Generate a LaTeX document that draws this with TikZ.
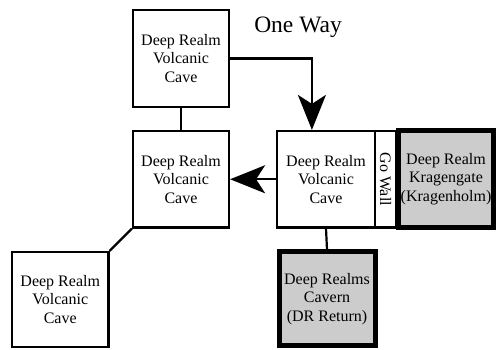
\documentclass[tikz,border=0pt]{standalone}
\usepackage{fontspec}
\setmainfont{Liberation Serif}
\usetikzlibrary{arrows.meta}
\definecolor{halftone}{gray}{0.8}
\begin{document}
\begin{tikzpicture}[x=1pt,y=-1pt,
  room/.style={draw, line width=2.2pt, inner sep=0pt, align=center,
    font=\fontsize{16}{18.5}\selectfont},
  exitroom/.style={room, line width=5pt, fill=halftone},
  link/.style={line width=2.2pt},
  oneway/.style={link, -{Stealth[length=35pt,width=28pt,inset=9pt]}}
]
\useasboundingbox (0,0) rectangle (498,349);

% volcanic caves
\node[room, minimum width=96pt, minimum height=97pt] (A) at (181,58.5) {Deep Realm\\Volcanic\\Cave};
\node[room, minimum width=96pt, minimum height=96.5pt] (B) at (181,179.25) {Deep Realm\\Volcanic\\Cave};
\node[room, minimum width=96.5pt, minimum height=95pt] (C) at (60.25,299.5) {Deep Realm\\Volcanic\\Cave};
\node[room, minimum width=98pt, minimum height=96.5pt] (D) at (326,179.25) {Deep Realm\\Volcanic\\Cave};

% wall strip beside the eastern cave
\node[room, rotate=-90, minimum width=96.5pt, minimum height=21pt,
      font=\fontsize{16}{18}\selectfont] (G) at (385.5,179.25) {Go Wall};

% exits
\node[exitroom, minimum width=95pt, minimum height=97.5pt] (E) at (446,178.75) {Deep Realm\\Kragengate\\(Kragenholm)};
\node[exitroom, minimum width=96pt, minimum height=93.5pt] (F) at (327,298.7) {Deep Realms\\Cavern\\(DR Return)};

% label
\node[anchor=base, font=\fontsize{23.5}{26}\selectfont] (ow) at (298,32) {One Way};

% connections
\draw[link] (A.south) -- (B.north);
\draw[link] (B.south west) -- (C.north east);
\draw[link] (D.south) -- (F.north);
\draw[oneway] (A.east) -| ([xshift=36pt]D.north west);
\draw[oneway] (D.west) -- (B.east);
\end{tikzpicture}
\end{document}
